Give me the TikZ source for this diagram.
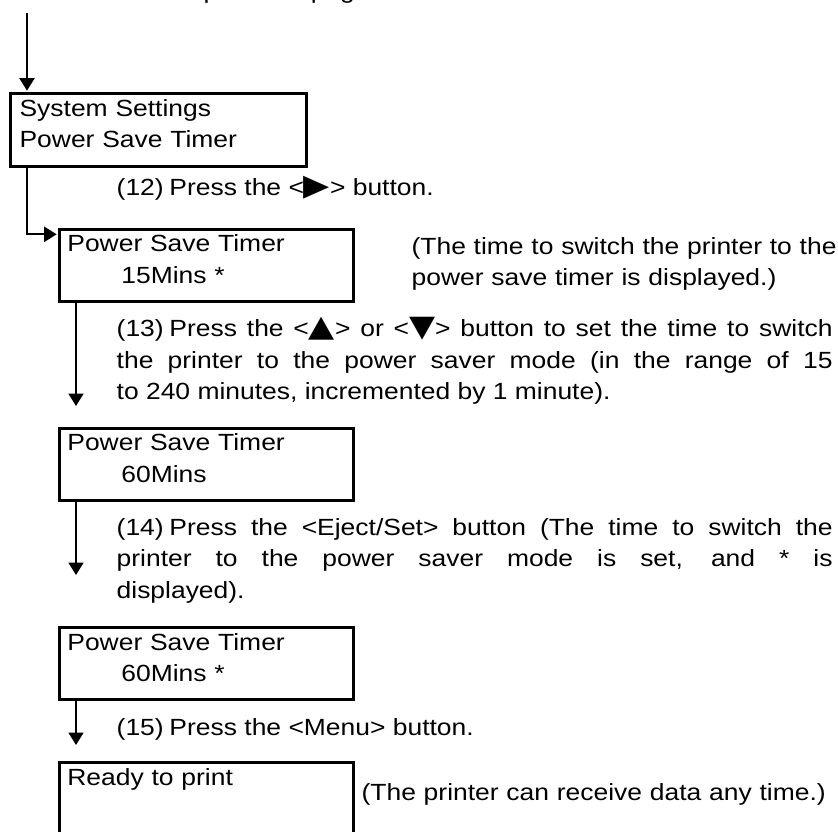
\documentclass[tikz,border=0pt]{standalone}
\usepackage{fontspec}
\setmainfont{Liberation Sans}[FakeStretch=1.13]
\newfontfamily\symfont{DejaVu Sans}[FakeStretch=1.13]
\usepackage{tikz}
\usetikzlibrary{arrows.meta,positioning}

\newcommand{\steplabel}[1]{\hangindent=52.8pt\hangafter=1\noindent\makebox[52.8pt][l]{#1}}
\newcommand{\key}[1]{{\symfont\fontsize{30pt}{31.6pt}\selectfont #1}}

\begin{document}
\begin{tikzpicture}[x=1pt, y=-1pt,
    font=\fontsize{23.4pt}{31.6pt}\selectfont,
    box/.style={draw, line width=3pt, anchor=north west, inner sep=0pt,
        minimum width=294pt, minimum height=72.5pt},
    screen/.style={anchor=base west, inner sep=0pt, text width=280pt, align=left},
    note/.style={anchor=base west, inner sep=0pt, text width=470pt, align=left},
    stepnote/.style={anchor=base west, inner sep=0pt, text width=715.9pt, align=justify},
    flow/.style={line width=2pt, -{Triangle[length=12.5pt, width=15pt]}}
]
\useasboundingbox (0,0) rectangle (838,831);

\node[anchor=base west, inner sep=0pt] (prev) at (203.3,-1.5) {previous page};

\node[box, minimum width=296pt] (sys) at (8.8,92.2) {};
\node[screen] (syst) at ([shift={(10.6,23.8)}]sys.north west) {System Settings\\Power Save Timer};

\node[box] (t15) at (58.2,227.5) {};
\node[screen] (t15t) at ([shift={(9,24.2)}]t15.north west) {Power Save Timer\\\hspace*{54pt}15Mins *};

\node[box] (t60) at (58.2,426.5) {};
\node[screen] (t60t) at ([shift={(9,24.2)}]t60.north west) {Power Save Timer\\\hspace*{54pt}60Mins};

\node[box] (t60s) at (58.2,625.8) {};
\node[screen] (t60st) at ([shift={(9,24.2)}]t60s.north west) {Power Save Timer\\\hspace*{54pt}60Mins *};

\node[box] (ready) at (58.2,760.8) {};
\node[screen] (readyt) at ([shift={(9,24.2)}]ready.north west) {Ready to print};

\node[note] (shown) at (411.4,254) {(The time to switch the printer to the\\power save timer is displayed.)};
\node[note] (idle) at (361.4,800) {(The printer can receive data any time.)};

\node[stepnote] (s12) at (116.5,195) {\steplabel{(12)}Press the <\key{▶}> button.};
\node[stepnote] (s13) at (116.5,336.7) {\steplabel{(13)}Press the <\key{▲}> or <\key{▼}> button to set the time to switch\linebreak the printer to the power saver mode (in the range of 15\linebreak to 240 minutes, incremented by 1 minute).};
\node[stepnote] (s14) at (116.5,535) {\steplabel{(14)}Press the <Eject/Set> button (The time to switch the\linebreak printer to the power saver mode is set, and * is\linebreak displayed).};
\node[stepnote] (s15) at (116.5,735) {\steplabel{(15)}Press the <Menu> button.};

\coordinate (in) at (27,13);
\coordinate (d13) at (76,406);
\coordinate (d14) at (76,575);
\coordinate (d15) at (76,745);

\draw[flow, shorten >=1.5pt] (in) -- (sys.north -| in);
\draw[flow, shorten >=1.5pt] (sys.south -| in) |- ([yshift=-6.8pt]t15.north west);
\draw[flow] (t15.south -| d13) -- (d13);
\draw[flow] (t60.south -| d14) -- (d14);
\draw[flow] (t60s.south -| d15) -- (d15);

\end{tikzpicture}
\end{document}
